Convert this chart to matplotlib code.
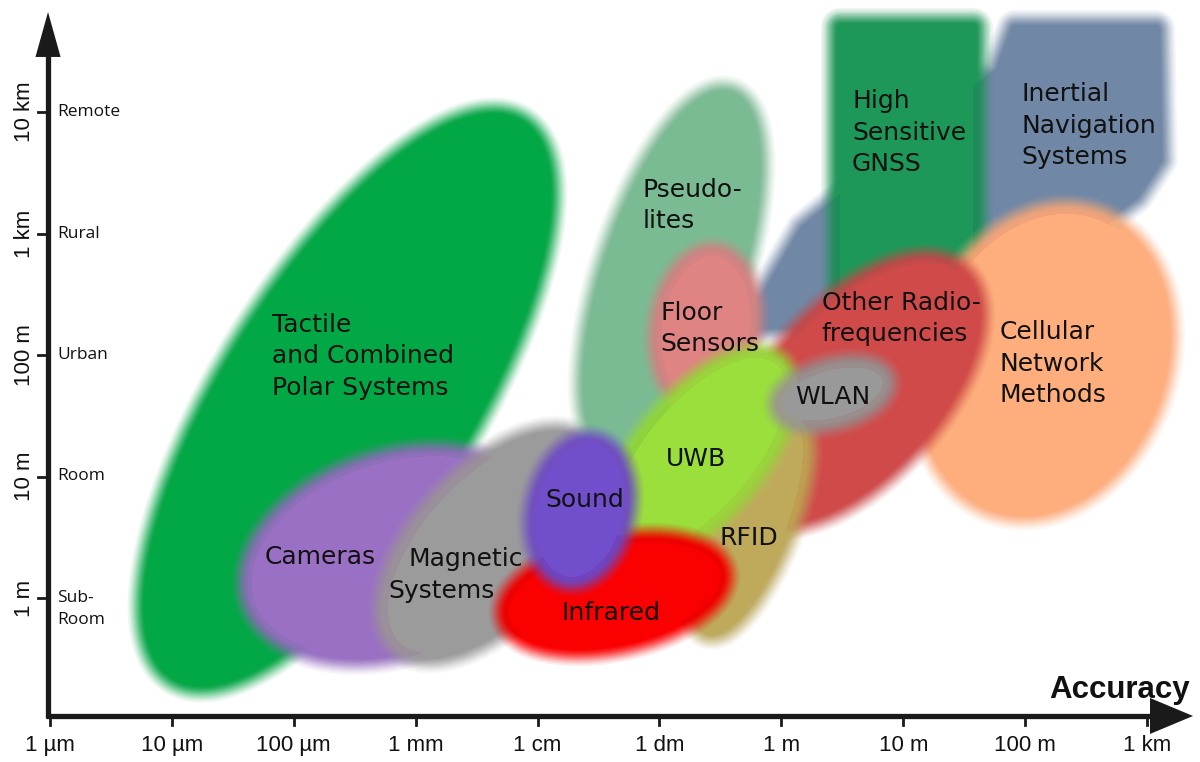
import matplotlib

matplotlib.use("Agg")
import matplotlib.pyplot as plt
import numpy as np
from matplotlib import font_manager
from matplotlib.patches import Ellipse, Polygon, Rectangle

# axes are log10 of metres
accuracy_decades = [-6, -5, -4, -3, -2, -1, 0, 1, 2, 3]
accuracy_labels = ["1 µm", "10 µm", "100 µm", "1 mm", "1 cm", "1 dm", "1 m", "10 m", "100 m", "1 km"]
coverage_decades = [0, 1, 2, 3, 4]
coverage_labels = ["1 m", "10 m", "100 m", "1 km", "10 km"]
coverage_classes = ["Sub-\nRoom", "Room", "Urban", "Rural", "Remote"]

# ellipses: centre (accuracy, coverage), axis lengths in decades, tilt in degrees
ellipse_names = ["tactile", "cameras", "magnetic", "pseudolites", "cellular", "other_rf",
                 "floor", "rfid", "uwb", "wlan", "infrared", "sound"]
ellipse_x = [-3.56, -3.17, -2.37, -0.90, 2.16, 0.60, -0.62, -0.26, -0.67, 0.42, -1.37, -1.65]
ellipse_y = [1.63, 0.35, 0.44, 2.66, 1.94, 1.70, 2.22, 0.60, 1.18, 1.68, 0.03, 0.72]
ellipse_major = [5.55, 2.63, 2.42, 3.29, 2.71, 2.79, 1.40, 2.05, 2.15, 1.05, 1.97, 1.31]
ellipse_minor = [2.15, 1.73, 1.31, 1.25, 2.10, 1.50, 0.92, 0.78, 1.08, 0.59, 0.99, 0.90]
ellipse_angle = [58, 18, 47, 72, 70, 48, 82, 68, 50, 15, 12, 78]

# high sensitive GNSS block (accuracy range, coverage range)
gnss_x = [0.38, 1.67]
gnss_y = [2.45, 4.80]
# inertial navigation outline
inertial_x = [-0.26, 0.19, 1.79, 1.92, 3.07, 3.09, 2.90, 1.47]
inertial_y = [2.25, 3.03, 4.33, 4.68, 4.68, 3.61, 3.32, 2.29]

colors = {
    "tactile": "#02a845",
    "cameras": "#9a70c4",
    "magnetic": "#9b9b9b",
    "inertial": "#7087a6",
    "pseudolites": "#7bbb94",
    "gnss": "#1e9859",
    "cellular": "#fdae7c",
    "other_rf": "#d14a4a",
    "floor": "#e08383",
    "rfid": "#bfaa5c",
    "uwb": "#9adf3c",
    "wlan": "#999999",
    "infrared": "#fb0000",
    "sound": "#714fcc",
}
draw_order = ["tactile", "cameras", "magnetic", "inertial", "pseudolites", "gnss", "cellular",
              "other_rf", "floor", "rfid", "uwb", "wlan", "infrared", "sound"]

label_texts = ["Tactile\nand Combined\nPolar Systems", "Cameras", "Magnetic", "Systems", "Sound",
               "Pseudo-\nlites", "Floor\nSensors", "UWB", "RFID", "Infrared", "WLAN",
               "Other Radio-\nfrequencies", "High\nSensitive\nGNSS", "Inertial\nNavigation\nSystems",
               "Cellular\nNetwork\nMethods"]
label_x = [-4.18, -4.24, -3.06, -3.22, -1.94, -1.14, -0.99, -0.95, -0.51, -1.80, 0.11,
           0.33, 0.58, 1.97, 1.79]
label_y = [2.19, 0.28, 0.26, 0.00, 0.75, 3.30, 2.29, 1.09, 0.44, -0.18, 1.60, 2.37, 4.03, 4.09, 2.13]

DPI = 100
PX = 121.7  # pixels per decade
BLUR = 24  # px, width of the soft edge
X0, X1 = -6.41, -6.41 + 1200 / 121.9
Y1 = 598 / 121.5
Y0 = Y1 - 762 / 121.5

names = {f.name for f in font_manager.fontManager.ttflist}
TICKS = "Liberation Sans" if "Liberation Sans" in names else "DejaVu Sans"
SANS = "Open Sans" if "Open Sans" in names else "DejaVu Sans"

fig = plt.figure(figsize=(12, 7.62), dpi=DPI)
ax = fig.add_axes([0, 0, 1, 1])
ax.set_xlim(X0, X1)
ax.set_ylim(Y0, Y1)
ax.axis("off")

# ring radii so that stacked rings give a cosine fall-off
RING_ALPHA = 0.08
remain = (1 - RING_ALPHA) ** np.arange(1, 56)
ring_radius = BLUR * np.arccos(1 - 2 * remain) / np.pi


def blurred(make, color, shrink=True):
    s = BLUR / PX if shrink else 0
    core = make(s)
    core.set(facecolor=color, edgecolor="none")
    ax.add_patch(core)
    for r in ring_radius:
        ring = make(s)
        ring.set(facecolor="none", edgecolor=color, alpha=RING_ALPHA,
                 linewidth=2 * r * 72 / DPI, joinstyle="round")
        ax.add_patch(ring)


for name in draw_order:
    if name in ellipse_names:
        i = ellipse_names.index(name)
        blurred(lambda s, i=i: Ellipse((ellipse_x[i], ellipse_y[i]), ellipse_major[i] - s,
                                       ellipse_minor[i] - s, angle=ellipse_angle[i]), colors[name])
    elif name == "gnss":
        blurred(lambda s: Rectangle((gnss_x[0] + s / 2, gnss_y[0]), gnss_x[1] - gnss_x[0] - s,
                                    gnss_y[1] - gnss_y[0] - s / 2), colors[name])
    else:
        blurred(lambda s: Polygon(list(zip(inertial_x, inertial_y)), closed=True), colors[name],
                shrink=False)

for text, x, y in zip(label_texts, label_x, label_y):
    for j, line in enumerate(text.split("\n")):
        ax.text(x, y - j * 31.5 / PX, line, fontsize=18, color="#111111",
                family="DejaVu Sans", va="baseline", ha="left")

# axes with arrow heads
axis_color = "#1a1a1a"
ax_x = -6.016
ax_y = -0.971
ax.plot([ax_x, ax_x], [ax_y - 0.02, 4.46], color=axis_color, lw=3.8, solid_capstyle="butt")
ax.plot([ax_x - 0.02, 3.03], [ax_y, ax_y], color=axis_color, lw=3.8, solid_capstyle="butt")
ax.fill([ax_x - 0.103, ax_x + 0.103, ax_x], [4.453, 4.453, 4.823], color=axis_color, lw=0)
ax.fill([3.024, 3.024, 3.377], [ax_y - 0.148, ax_y + 0.148, ax_y], color=axis_color, lw=0)

for d, lab in zip(accuracy_decades, accuracy_labels):
    ax.plot([d, d], [ax_y, ax_y - 0.075], color=axis_color, lw=2)
    ax.text(d, -1.215, lab, fontsize=16, family=TICKS, ha="center", va="center", color="#111111")

for d, lab, cls in zip(coverage_decades, coverage_labels, coverage_classes):
    ax.plot([ax_x - 0.085, ax_x], [d, d], color=axis_color, lw=2)
    ax.text(-6.213, d, lab, fontsize=16, family=TICKS, rotation=90, ha="center", va="center",
            color="#111111")
    for j, line in enumerate(cls.split("\n")):
        ax.text(-5.943, d - j * 22 / PX, line, fontsize=12.5, family=SANS, ha="left", va="center",
                color="#111111")

ax.text(3.352, -0.757, "Accuracy", fontsize=22.5, family=TICKS, weight="bold", ha="right",
        va="center", color="#111111")

fig.savefig("out.png", dpi=DPI)
